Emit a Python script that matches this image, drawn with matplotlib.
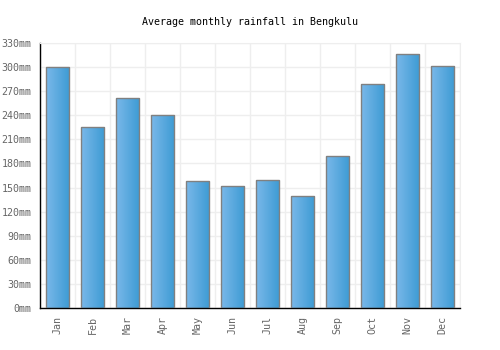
import numpy as np
import matplotlib
matplotlib.use("Agg")
import matplotlib.pyplot as plt
from matplotlib.colors import LinearSegmentedColormap

months = ["Jan", "Feb", "Mar", "Apr", "May", "Jun", "Jul", "Aug", "Sep", "Oct", "Nov", "Dec"]
rainfall = [300, 225, 261, 241, 158, 152, 159, 139, 189, 279, 316, 301]
yticks = list(range(0, 331, 30))

plt.rcParams["font.family"] = "DejaVu Sans Mono"

fig = plt.figure(figsize=(5, 3.5), dpi=100)
ax = fig.add_axes([0.08, 0.12, 0.84, 0.757])

x = np.arange(len(months))
bars = ax.bar(x, rainfall, width=0.68, color="none", edgecolor="#808080", linewidth=1, zorder=3)

# horizontal gradient inside each bar
cmap = LinearSegmentedColormap.from_list("blu", ["#7ab8ea", "#3d9bd3"])
grad = np.linspace(0, 1, 64).reshape(1, -1)
for b in bars:
    bx, by = b.get_x(), b.get_y()
    w, h = b.get_width(), b.get_height()
    im = ax.imshow(grad, cmap=cmap, aspect="auto", extent=[bx, bx + w, by, by + h],
                   zorder=2, interpolation="bicubic")
    im.set_clip_path(b)

ax.set_xlim(-0.5, len(months) - 0.5)
ax.set_ylim(0, 330)
ax.set_yticks(yticks)
ax.set_yticklabels([f"{v}mm" for v in yticks])
ax.set_xticks(x)
ax.set_xticklabels(months, rotation=90)
ax.set_xticks(np.arange(-0.5, len(months)), minor=True)

ax.grid(True, which="minor", axis="x", color="#eeeeee", linewidth=1, zorder=0)
ax.grid(True, which="major", axis="y", color="#eeeeee", linewidth=1, zorder=0)
ax.tick_params(which="both", length=0, labelsize=7.2, labelcolor="#666666")
ax.tick_params(axis="y", pad=6)
ax.tick_params(axis="x", pad=6)

for s in ["top", "right"]:
    ax.spines[s].set_color("#eeeeee")
for s in ["left", "bottom"]:
    ax.spines[s].set_color("black")
    ax.spines[s].set_linewidth(1)

ax.set_title("Average monthly rainfall in Bengkulu", fontsize=7.2, pad=13)

fig.savefig("out.png", dpi=100)
